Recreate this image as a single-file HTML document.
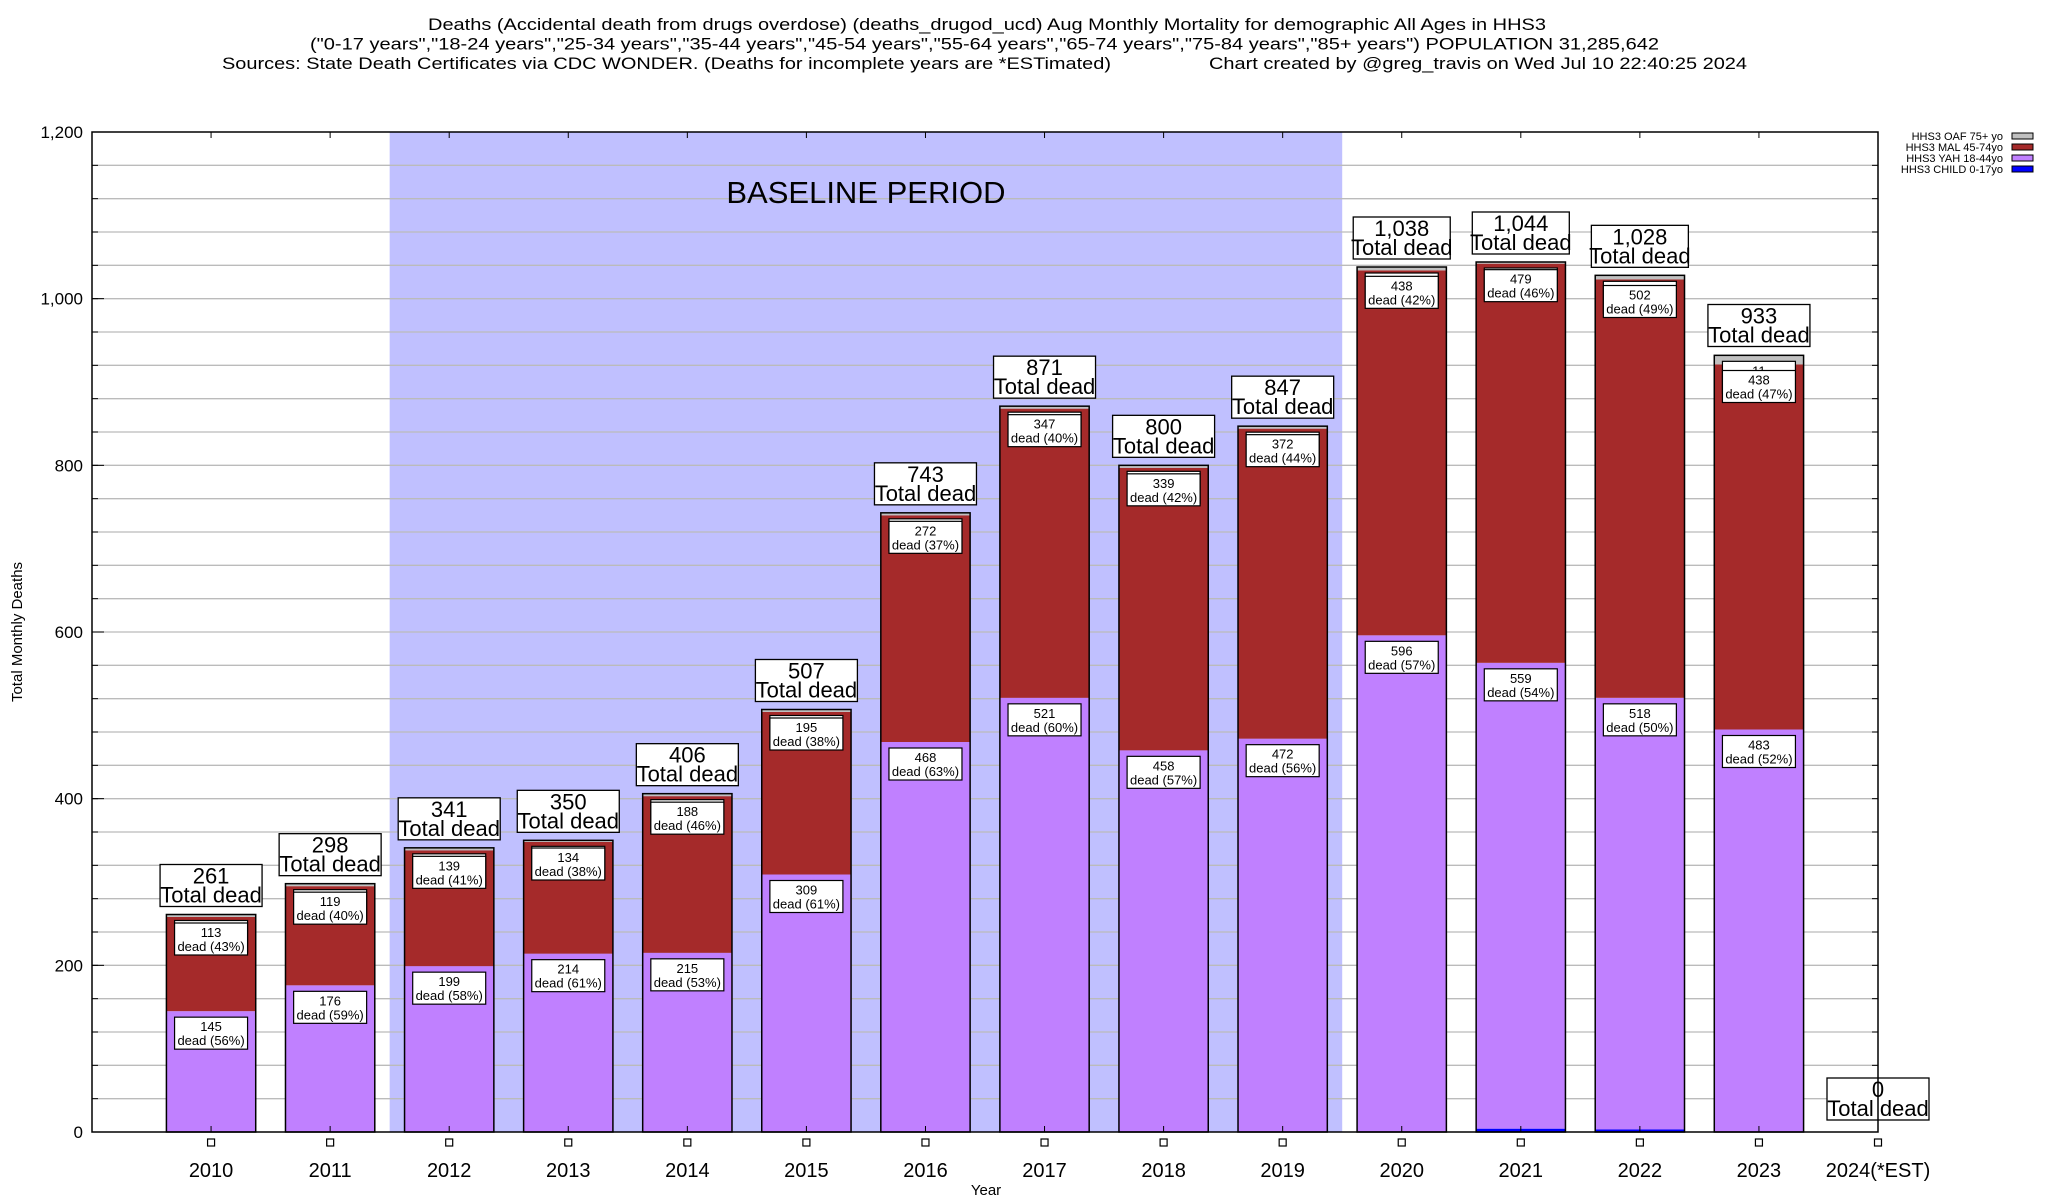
<!DOCTYPE html>
<html><head><meta charset="utf-8"><style>
html,body{margin:0;padding:0;background:#fff}
svg{display:block;font-family:"Liberation Sans",Arial,sans-serif}
</style></head><body>
<svg id="chart" width="2048" height="1200" viewBox="0 0 2048 1200" xmlns="http://www.w3.org/2000/svg">
<g>
<text x="428" y="30" font-size="17" textLength="1118" lengthAdjust="spacingAndGlyphs">Deaths (Accidental death from drugs overdose) (deaths_drugod_ucd) Aug Monthly Mortality for demographic All Ages in HHS3</text>
<text x="310" y="49.5" font-size="17" textLength="1349" lengthAdjust="spacingAndGlyphs">("0-17 years","18-24 years","25-34 years","35-44 years","45-54 years","55-64 years","65-74 years","75-84 years","85+ years") POPULATION 31,285,642</text>
<text x="222" y="69" font-size="17" textLength="889" lengthAdjust="spacingAndGlyphs">Sources: State Death Certificates via CDC WONDER. (Deaths for incomplete years are *ESTimated)</text>
<text x="1209" y="69" font-size="17" textLength="538" lengthAdjust="spacingAndGlyphs">Chart created by @greg_travis on Wed Jul 10 22:40:25 2024</text>
</g>
<g id="plot"></g>
</svg>
<script>
const years = ["2010","2011","2012","2013","2014","2015","2016","2017","2018","2019","2020","2021","2022","2023","2024(*EST)"];
const child = [0,0,0,0,0,0,0,0,0,0,0,4,3,0,0];
const yah = [145,176,199,214,215,309,468,521,458,472,596,559,518,483,0];
const mal = [113,119,139,134,188,195,272,347,339,372,438,479,502,438,0];
const oaf = [3,3,3,2,3,3,3,3,3,3,4,2,5,11,0];
const totals = [261,298,341,350,406,507,743,871,800,847,1038,1044,1028,933,0];
const yTicks = [0,200,400,600,800,1000,1200];
const baselineStart = 2011.5, baselineEnd = 2019.5;

const NS = "http://www.w3.org/2000/svg";
const L = 92, R = 1878, T = 132, B = 1132;
const xMin = 2009, xMax = 2024, yMax = 1200;
const xs = v => L + (v - xMin) / (xMax - xMin) * (R - L);
const ys = v => B - v / yMax * (B - T);
const slot = (R - L) / (xMax - xMin);
const bw = slot * 0.75;
const plot = document.getElementById('plot');
function mk(tag, attrs, parent, txt) {
  const e = document.createElementNS(NS, tag);
  for (const k in attrs) e.setAttribute(k, attrs[k]);
  if (txt !== undefined) e.textContent = txt;
  (parent || plot).appendChild(e);
  return e;
}
const fmt = n => n.toLocaleString('en-US');

const bl = mk('rect', {x: xs(baselineStart), y: T, width: xs(baselineEnd) - xs(baselineStart), height: B - T, fill: '#c0c0ff'});


const grid = mk('g', {});


for (let v = 40; v < yMax; v += 40) {
  mk('line', {x1: L, x2: R, y1: ys(v), y2: ys(v), stroke: '#bbbbbb', 'stroke-width': 1.3}, grid);
}
const blt = mk('text', {x: xs((baselineStart + baselineEnd) / 2), y: 203, 'font-size': 31, 'text-anchor': 'middle'}, plot, 'BASELINE PERIOD');



const yax = mk('g', {});


for (let v = 40; v < yMax; v += 40) {
  mk('line', {x1: L, x2: L + 6, y1: ys(v), y2: ys(v), stroke: '#000'}, yax);
  mk('line', {x1: R - 6, x2: R, y1: ys(v), y2: ys(v), stroke: '#000'}, yax);
}
yTicks.forEach(v => {
  mk('line', {x1: L, x2: L + 12, y1: ys(v), y2: ys(v), stroke: '#000'}, yax);
  const t = mk('text', {x: 83, y: ys(v) + 6, 'font-size': 17, 'text-anchor': 'end'}, yax, fmt(v));
  
  
});
const yt = mk('text', {x: 22, y: 632, 'font-size': 15, 'text-anchor': 'middle', transform: 'rotate(-90 22 632)'}, plot, 'Total Monthly Deaths');


const xt = mk('text', {x: 986, y: 1195, 'font-size': 15, 'text-anchor': 'middle'}, plot, 'Year');



function segLabel(g, cx, topY, val, pct) {
  const w = 73, h = 32;
  mk('rect', {x: cx - w / 2, y: topY + 6, width: w, height: h, fill: '#fff', stroke: '#000', 'stroke-width': 1.2}, g);
  mk('text', {x: cx, y: topY + 20, 'font-size': 13, 'text-anchor': 'middle'}, g, String(val));
  mk('text', {x: cx, y: topY + 34, 'font-size': 13, 'text-anchor': 'middle'}, g, 'dead (' + pct + '%)');
}

years.forEach((yr, i) => {
  const v = 2010 + i;
  const cx = xs(v);
  const g = mk('g', {});
  
  
  const segs = [[child[i], '#0000ff'], [yah[i], '#c080ff'], [mal[i], '#a52a2a'], [oaf[i], '#c0c0c0']];
  let base = 0;
  const tops = [];
  segs.forEach(([val, col]) => {
    if (val > 0) mk('rect', {x: cx - bw / 2, y: ys(base + val), width: bw, height: ys(base) - ys(base + val), fill: col}, g);
    base += val;
    tops.push(base);
  });
  const total = totals[i];
  if (total > 0) {
    mk('rect', {x: cx - bw / 2, y: ys(base), width: bw, height: B - ys(base), fill: 'none', stroke: '#000', 'stroke-width': 1.5}, g);
    segLabel(g, cx, ys(tops[3]), oaf[i], Math.round(oaf[i] / total * 100));
    segLabel(g, cx, ys(tops[2]), mal[i], Math.round(mal[i] / total * 100));
    segLabel(g, cx, ys(tops[1]), yah[i], Math.round(yah[i] / total * 100));
  }
  const tg = mk('g', {});
  
  
  const bBot = total > 0 ? ys(total) - 8 : B - 12;
  const bw2 = total >= 1000 ? 97 : 102;
  mk('rect', {x: cx - bw2 / 2, y: bBot - 42, width: bw2, height: 42, fill: '#fff', stroke: '#000', 'stroke-width': 1.3}, tg);
  mk('text', {x: cx, y: bBot - 23, 'font-size': 22, 'text-anchor': 'middle'}, tg, fmt(total));
  mk('text', {x: cx, y: bBot - 4, 'font-size': 22, 'text-anchor': 'middle'}, tg, 'Total dead');
  mk('line', {x1: cx, x2: cx, y1: T, y2: T + 6, stroke: '#000'});
  mk('line', {x1: cx, x2: cx, y1: B, y2: B - 6, stroke: '#000'});
  mk('rect', {x: cx - 3.5, y: 1139, width: 7, height: 7, fill: '#fff', stroke: '#000', 'stroke-width': 1.2});
  const lt = mk('text', {x: cx, y: 1177, 'font-size': 20, 'text-anchor': 'middle'}, plot, yr);
  
  
});
const fr = mk('rect', {x: L, y: T, width: R - L, height: B - T, fill: 'none', stroke: '#000', 'stroke-width': 1.5});



const legNames = ['HHS3 OAF 75+ yo', 'HHS3 MAL 45-74yo', 'HHS3 YAH 18-44yo', 'HHS3 CHILD 0-17yo'];
const legCols = ['#c0c0c0', '#a52a2a', '#c080ff', '#0000ff'];
const lg = mk('g', {});


legNames.forEach((n, i) => {
  const e = mk('g', {}, lg);
  
  
  const y = 136 + i * 11;
  mk('text', {x: 2003, y: y + 4, 'font-size': 11, 'text-anchor': 'end'}, e, n);
  mk('rect', {x: 2012, y: y - 3, width: 21, height: 6, fill: legCols[i], stroke: '#000', 'stroke-width': 1}, e);
});
</script>
</body></html>
